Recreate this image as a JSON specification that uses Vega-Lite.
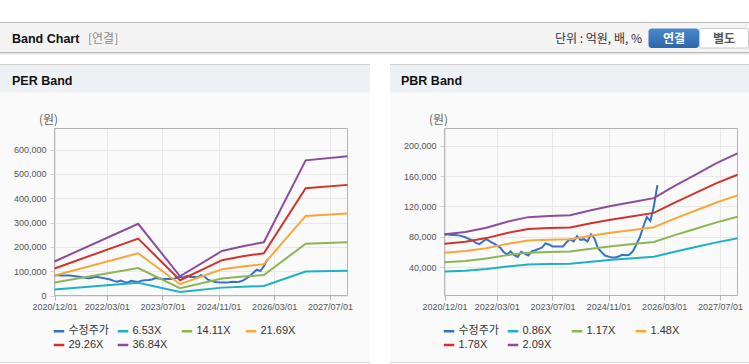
{
  "$schema": "https://vega.github.io/schema/vega-lite/v6.json",
  "width": 749,
  "height": 364,
  "autosize": {"type": "none"},
  "padding": 0,
  "background": "#fafafa",
  "config": {
    "view": {"stroke": null},
    "axis": {"labelFont": "Liberation Sans", "labelFontSize": 9, "labelColor": "#555555"}
  },
  "datasets": {
    "price": [
      {"d":"2020-12-01","s":"수정주가","v":83000},{"d":"2021-01-01","s":"수정주가","v":83000},{"d":"2021-02-01","s":"수정주가","v":82500},
      {"d":"2021-03-01","s":"수정주가","v":82500},{"d":"2021-04-01","s":"수정주가","v":82000},{"d":"2021-05-01","s":"수정주가","v":81000},
      {"d":"2021-06-01","s":"수정주가","v":79500},{"d":"2021-07-01","s":"수정주가","v":77500},{"d":"2021-08-01","s":"수정주가","v":75500},
      {"d":"2021-09-01","s":"수정주가","v":72000},{"d":"2021-10-01","s":"수정주가","v":70500},{"d":"2021-11-01","s":"수정주가","v":74000},
      {"d":"2021-12-01","s":"수정주가","v":77000},{"d":"2022-01-01","s":"수정주가","v":74000},{"d":"2022-02-01","s":"수정주가","v":71500},
      {"d":"2022-03-01","s":"수정주가","v":69000},{"d":"2022-04-01","s":"수정주가","v":66000},{"d":"2022-05-01","s":"수정주가","v":60000},
      {"d":"2022-06-01","s":"수정주가","v":57000},{"d":"2022-07-01","s":"수정주가","v":61000},{"d":"2022-08-01","s":"수정주가","v":56000},
      {"d":"2022-09-01","s":"수정주가","v":53500},{"d":"2022-10-01","s":"수정주가","v":60500},{"d":"2022-11-01","s":"수정주가","v":58000},
      {"d":"2022-12-01","s":"수정주가","v":55500},{"d":"2023-01-01","s":"수정주가","v":61000},{"d":"2023-02-01","s":"수정주가","v":62500},
      {"d":"2023-03-01","s":"수정주가","v":64000},{"d":"2023-04-01","s":"수정주가","v":66000},{"d":"2023-05-01","s":"수정주가","v":71500},
      {"d":"2023-06-01","s":"수정주가","v":70000},{"d":"2023-07-01","s":"수정주가","v":67500},{"d":"2023-08-01","s":"수정주가","v":67500},
      {"d":"2023-09-01","s":"수정주가","v":67500},{"d":"2023-10-01","s":"수정주가","v":67500},{"d":"2023-11-01","s":"수정주가","v":73000},
      {"d":"2023-12-01","s":"수정주가","v":77000},{"d":"2024-01-01","s":"수정주가","v":74000},{"d":"2024-02-01","s":"수정주가","v":81000},
      {"d":"2024-03-01","s":"수정주가","v":76000},{"d":"2024-04-01","s":"수정주가","v":77000},{"d":"2024-05-01","s":"수정주가","v":74000},
      {"d":"2024-06-01","s":"수정주가","v":83500},{"d":"2024-07-01","s":"수정주가","v":78000},{"d":"2024-08-01","s":"수정주가","v":65000},
      {"d":"2024-09-01","s":"수정주가","v":60000},{"d":"2024-10-01","s":"수정주가","v":55500},{"d":"2024-11-01","s":"수정주가","v":54000},
      {"d":"2024-12-01","s":"수정주가","v":53000},{"d":"2025-01-01","s":"수정주가","v":53000},{"d":"2025-02-01","s":"수정주가","v":54500},
      {"d":"2025-03-01","s":"수정주가","v":56500},{"d":"2025-04-01","s":"수정주가","v":56000},{"d":"2025-05-01","s":"수정주가","v":56500},
      {"d":"2025-06-01","s":"수정주가","v":61000},{"d":"2025-07-01","s":"수정주가","v":70000},{"d":"2025-08-01","s":"수정주가","v":79500},
      {"d":"2025-09-01","s":"수정주가","v":94000},{"d":"2025-10-01","s":"수정주가","v":106000},{"d":"2025-11-01","s":"수정주가","v":101000},
      {"d":"2025-12-01","s":"수정주가","v":120000},{"d":"2026-01-01","s":"수정주가","v":148000}
    ],
    "per": [
      {"d":"2020-12-01","s":"6.53X","v":24800},{"d":"2020-12-01","s":"14.11X","v":53600},{"d":"2020-12-01","s":"21.69X","v":82400},{"d":"2020-12-01","s":"29.26X","v":111200},{"d":"2020-12-01","s":"36.84X","v":140000},
      {"d":"2022-12-01","s":"6.53X","v":52300},{"d":"2022-12-01","s":"14.11X","v":113000},{"d":"2022-12-01","s":"21.69X","v":173700},{"d":"2022-12-01","s":"29.26X","v":234300},{"d":"2022-12-01","s":"36.84X","v":295000},
      {"d":"2023-12-01","s":"6.53X","v":14000},{"d":"2023-12-01","s":"14.11X","v":30300},{"d":"2023-12-01","s":"21.69X","v":46500},{"d":"2023-12-01","s":"29.26X","v":62700},{"d":"2023-12-01","s":"36.84X","v":79000},
      {"d":"2024-12-01","s":"6.53X","v":32400},{"d":"2024-12-01","s":"14.11X","v":70100},{"d":"2024-12-01","s":"21.69X","v":107700},{"d":"2024-12-01","s":"29.26X","v":145300},{"d":"2024-12-01","s":"36.84X","v":183000},
      {"d":"2025-06-01","s":"6.53X","v":36000},{"d":"2025-06-01","s":"14.11X","v":77700},{"d":"2025-06-01","s":"21.69X","v":119500},{"d":"2025-06-01","s":"29.26X","v":161200},{"d":"2025-06-01","s":"36.84X","v":203000},
      {"d":"2025-12-01","s":"6.53X","v":38800},{"d":"2025-12-01","s":"14.11X","v":83900},{"d":"2025-12-01","s":"21.69X","v":128900},{"d":"2025-12-01","s":"29.26X","v":174000},{"d":"2025-12-01","s":"36.84X","v":219000},
      {"d":"2026-12-01","s":"6.53X","v":98600},{"d":"2026-12-01","s":"14.11X","v":212900},{"d":"2026-12-01","s":"21.69X","v":327300},{"d":"2026-12-01","s":"29.26X","v":441600},{"d":"2026-12-01","s":"36.84X","v":556000},
      {"d":"2027-12-01","s":"6.53X","v":101600},{"d":"2027-12-01","s":"14.11X","v":219500},{"d":"2027-12-01","s":"21.69X","v":337400},{"d":"2027-12-01","s":"29.26X","v":455100},{"d":"2027-12-01","s":"36.84X","v":573000}
    ],
    "pbr": [
      {"d":"2020-12-01","s":"0.86X","v":34400},{"d":"2020-12-01","s":"1.17X","v":46700},{"d":"2020-12-01","s":"1.48X","v":59100},{"d":"2020-12-01","s":"1.78X","v":71100},{"d":"2020-12-01","s":"2.09X","v":83500},
      {"d":"2021-06-01","s":"0.86X","v":35600},{"d":"2021-06-01","s":"1.17X","v":48400},{"d":"2021-06-01","s":"1.48X","v":61300},{"d":"2021-06-01","s":"1.78X","v":73700},{"d":"2021-06-01","s":"2.09X","v":86500},
      {"d":"2021-12-01","s":"0.86X","v":37900},{"d":"2021-12-01","s":"1.17X","v":51500},{"d":"2021-12-01","s":"1.48X","v":65200},{"d":"2021-12-01","s":"1.78X","v":78400},{"d":"2021-12-01","s":"2.09X","v":92000},
      {"d":"2022-06-01","s":"0.86X","v":41100},{"d":"2022-06-01","s":"1.17X","v":56000},{"d":"2022-06-01","s":"1.48X","v":70800},{"d":"2022-06-01","s":"1.78X","v":85200},{"d":"2022-06-01","s":"2.09X","v":100000},
      {"d":"2022-12-01","s":"0.86X","v":43600},{"d":"2022-12-01","s":"1.17X","v":59300},{"d":"2022-12-01","s":"1.48X","v":75100},{"d":"2022-12-01","s":"1.78X","v":90300},{"d":"2022-12-01","s":"2.09X","v":106000},
      {"d":"2023-06-01","s":"0.86X","v":44200},{"d":"2023-06-01","s":"1.17X","v":60200},{"d":"2023-06-01","s":"1.48X","v":76100},{"d":"2023-06-01","s":"1.78X","v":91600},{"d":"2023-06-01","s":"2.09X","v":107500},
      {"d":"2023-12-01","s":"0.86X","v":44600},{"d":"2023-12-01","s":"1.17X","v":60700},{"d":"2023-12-01","s":"1.48X","v":76800},{"d":"2023-12-01","s":"1.78X","v":92400},{"d":"2023-12-01","s":"2.09X","v":108500},
      {"d":"2024-06-01","s":"0.86X","v":47300},{"d":"2024-06-01","s":"1.17X","v":64400},{"d":"2024-06-01","s":"1.48X","v":81400},{"d":"2024-06-01","s":"1.78X","v":97900},{"d":"2024-06-01","s":"2.09X","v":115000},
      {"d":"2024-12-01","s":"0.86X","v":49800},{"d":"2024-12-01","s":"1.17X","v":67700},{"d":"2024-12-01","s":"1.48X","v":85700},{"d":"2024-12-01","s":"1.78X","v":103000},{"d":"2024-12-01","s":"2.09X","v":121000},
      {"d":"2025-06-01","s":"0.86X","v":51900},{"d":"2025-06-01","s":"1.17X","v":70500},{"d":"2025-06-01","s":"1.48X","v":89200},{"d":"2025-06-01","s":"1.78X","v":107300},{"d":"2025-06-01","s":"2.09X","v":126000},
      {"d":"2025-12-01","s":"0.86X","v":53900},{"d":"2025-12-01","s":"1.17X","v":73300},{"d":"2025-12-01","s":"1.48X","v":92800},{"d":"2025-12-01","s":"1.78X","v":111600},{"d":"2025-12-01","s":"2.09X","v":131000},
      {"d":"2026-06-01","s":"0.86X","v":60500},{"d":"2026-06-01","s":"1.17X","v":82300},{"d":"2026-06-01","s":"1.48X","v":104100},{"d":"2026-06-01","s":"1.78X","v":125200},{"d":"2026-06-01","s":"2.09X","v":147000},
      {"d":"2026-12-01","s":"0.86X","v":66700},{"d":"2026-12-01","s":"1.17X","v":90700},{"d":"2026-12-01","s":"1.48X","v":114700},{"d":"2026-12-01","s":"1.78X","v":138000},{"d":"2026-12-01","s":"2.09X","v":162000},
      {"d":"2027-06-01","s":"0.86X","v":72800},{"d":"2027-06-01","s":"1.17X","v":99100},{"d":"2027-06-01","s":"1.48X","v":125300},{"d":"2027-06-01","s":"1.78X","v":150800},{"d":"2027-06-01","s":"2.09X","v":177000},
      {"d":"2027-12-01","s":"0.86X","v":78200},{"d":"2027-12-01","s":"1.17X","v":106400},{"d":"2027-12-01","s":"1.48X","v":134600},{"d":"2027-12-01","s":"1.78X","v":161800},{"d":"2027-12-01","s":"2.09X","v":190000}
    ]
  },
  "resolve": {
    "scale": {"x": "independent", "y": "independent", "color": "independent"},
    "axis": {"x": "independent", "y": "independent"},
    "legend": {"color": "independent"}
  },
  "layer": [
    {"data": {"values": [{}]}, "mark": {"type": "rect", "fill": "#ffffff"}, "encoding": {"x": {"value": 0}, "x2": {"value": 749}, "y": {"value": 0}, "y2": {"value": 64}}},
    {"data": {"values": [{}]}, "mark": {"type": "rect", "fill": "#f4f4f4", "stroke": "#b9b9b9", "strokeWidth": 1}, "encoding": {"x": {"value": -2}, "x2": {"value": 751}, "y": {"value": 22.5}, "y2": {"value": 52.5}}},
    {"data": {"values": [{}]}, "mark": {"type": "rect", "fill": "#e6e6e6"}, "encoding": {"x": {"value": 0}, "x2": {"value": 749}, "y": {"value": 53}, "y2": {"value": 54.5}}},
    {"data": {"values": [{}]}, "mark": {"type": "rect", "fill": "#edf1f6"}, "encoding": {"x": {"value": 0}, "x2": {"value": 749}, "y": {"value": 64}, "y2": {"value": 92.5}}},
    {"data": {"values": [{}]}, "mark": {"type": "rect", "fill": "#d2d2d2"}, "encoding": {"x": {"value": 0}, "x2": {"value": 749}, "y": {"value": 64}, "y2": {"value": 65}}},
    {"data": {"values": [{}]}, "mark": {"type": "rect", "fill": "#d8d8d8"}, "encoding": {"x": {"value": 0}, "x2": {"value": 749}, "y": {"value": 362}, "y2": {"value": 363}}},
    {"data": {"values": [{}]}, "mark": {"type": "rect", "fill": "#ffffff"}, "encoding": {"x": {"value": 0}, "x2": {"value": 749}, "y": {"value": 363}, "y2": {"value": 364}}},
    {"data": {"values": [{}]}, "mark": {"type": "rect", "fill": "#ffffff"}, "encoding": {"x": {"value": 370}, "x2": {"value": 390}, "y": {"value": 55}, "y2": {"value": 364}}},
    {"data": {"values": [{}]}, "mark": {"type": "rect", "cornerRadius": 3, "fill": {"gradient": "linear", "x1": 0, "y1": 0, "x2": 0, "y2": 1, "stops": [{"offset": 0, "color": "#4a88cc"}, {"offset": 1, "color": "#2b66ab"}]}}, "encoding": {"x": {"value": 648.5}, "x2": {"value": 699}, "y": {"value": 28.5}, "y2": {"value": 48}}},
    {"data": {"values": [{}]}, "mark": {"type": "rect", "cornerRadius": 2, "fill": "#ffffff", "stroke": "#c8c8c8", "strokeWidth": 1}, "encoding": {"x": {"value": 699.5}, "x2": {"value": 748.5}, "y": {"value": 28.5}, "y2": {"value": 48}}},
    {"data": {"values": [{}]}, "mark": {"type": "text", "text": "Band Chart", "x": 12, "y": 43, "align": "left", "baseline": "alphabetic", "font": "Liberation Sans", "fontSize": 12.5, "fontWeight": "bold", "fill": "#111111"}, "encoding": {}},
    {"data": {"values": [{}]}, "mark": {"type": "text", "text": "[연결]", "x": 88, "y": 43, "align": "left", "baseline": "alphabetic", "font": "Noto Sans CJK KR", "fontSize": 12, "fill": "#8a8a8a"}, "encoding": {}},
    {"data": {"values": [{}]}, "mark": {"type": "text", "text": "단위 : 억원, 배, %", "x": 642, "y": 43, "align": "right", "baseline": "alphabetic", "font": "Noto Sans CJK KR", "fontSize": 12, "fill": "#333333"}, "encoding": {}},
    {"data": {"values": [{}]}, "mark": {"type": "text", "text": "연결", "x": 674, "y": 43, "align": "center", "baseline": "alphabetic", "font": "Noto Sans CJK KR", "fontSize": 12, "fontWeight": "bold", "fill": "#ffffff"}, "encoding": {}},
    {"data": {"values": [{}]}, "mark": {"type": "text", "text": "별도", "x": 724, "y": 43, "align": "center", "baseline": "alphabetic", "font": "Noto Sans CJK KR", "fontSize": 12, "fontWeight": "bold", "fill": "#555555"}, "encoding": {}},
    {"data": {"values": [{}]}, "mark": {"type": "text", "text": "PER Band", "x": 12, "y": 85, "align": "left", "baseline": "alphabetic", "font": "Liberation Sans", "fontSize": 12.5, "fontWeight": "bold", "fill": "#111111"}, "encoding": {}},
    {"data": {"values": [{}]}, "mark": {"type": "text", "text": "PBR Band", "x": 401, "y": 85, "align": "left", "baseline": "alphabetic", "font": "Liberation Sans", "fontSize": 12.5, "fontWeight": "bold", "fill": "#111111"}, "encoding": {}},
    {
      "resolve": {"axis": {"x": "independent"}},
      "layer": [
        {
          "data": {"values": [{}]},
          "mark": {"type": "rect", "fill": "#ffffff", "fillOpacity": 0, "stroke": "#b4b4b4", "strokeWidth": 1},
          "encoding": {
            "x": {"datum": {"year": 2020, "month": 12, "date": 1, "utc": true}, "type": "temporal",
                  "scale": {"type": "utc", "domain": [{"year": 2020, "month": 12, "date": 1, "utc": true}, {"year": 2027, "month": 12, "date": 1, "utc": true}], "range": [54.5, 347.5]},
                  "axis": {"orient": "top", "values": [{"year": 2020, "month": 12, "date": 1, "utc": true}, {"year": 2022, "month": 3, "date": 1, "utc": true}, {"year": 2023, "month": 7, "date": 1, "utc": true}, {"year": 2024, "month": 11, "date": 1, "utc": true}, {"year": 2026, "month": 3, "date": 1, "utc": true}, {"year": 2027, "month": 7, "date": 1, "utc": true}],
                           "grid": true, "gridColor": "#e8e8e8", "labels": false, "ticks": false, "domain": false, "title": null}},
            "x2": {"datum": {"year": 2027, "month": 12, "date": 1, "utc": true}},
            "y": {"datum": 0, "type": "quantitative"},
            "y2": {"datum": 687000}
          }
        },
        {
          "data": {"name": "price"},
          "mark": {"type": "line", "strokeWidth": 2},
          "encoding": {
            "x": {"field": "d", "type": "temporal",
                  "scale": {"type": "utc", "domain": [{"year": 2020, "month": 12, "date": 1, "utc": true}, {"year": 2027, "month": 12, "date": 1, "utc": true}], "range": [54.5, 347.5]},
                  "axis": {"orient": "bottom", "offset": -69, "values": [{"year": 2020, "month": 12, "date": 1, "utc": true}, {"year": 2022, "month": 3, "date": 1, "utc": true}, {"year": 2023, "month": 7, "date": 1, "utc": true}, {"year": 2024, "month": 11, "date": 1, "utc": true}, {"year": 2026, "month": 3, "date": 1, "utc": true}, {"year": 2027, "month": 7, "date": 1, "utc": true}],
                           "format": "%Y/%m/%d", "grid": false, "domain": false, "ticks": true, "tickSize": 5, "tickColor": "#b4b4b4", "labelPadding": 2, "labelFlush": false, "labelOverlap": false, "title": null}},
            "y": {"field": "v", "type": "quantitative",
                  "scale": {"domain": [0, 687000], "range": [295.5, 128.5], "nice": false, "zero": false},
                  "axis": {"orient": "left", "offset": -54, "values": [0, 100000, 200000, 300000, 400000, 500000, 600000], "format": ",d",
                           "domain": false, "grid": true, "gridColor": "#e8e8e8", "ticks": true, "tickSize": 4, "tickColor": "#d0d0d0", "labelPadding": 4,
                           "title": "(원)", "titleAngle": 0, "titleX": -6, "titleY": 119, "titleAlign": "center", "titleBaseline": "middle",
                           "titleFont": "Noto Sans CJK KR", "titleFontSize": 12, "titleFontWeight": "normal", "titleColor": "#666666"}},
            "color": {"field": "s", "type": "nominal",
                      "scale": {"domain": ["수정주가", "6.53X", "14.11X", "21.69X", "29.26X", "36.84X"], "range": ["#3672c4", "#1db1c6", "#8db455", "#f6a73a", "#d0342c", "#8d4d9d"]},
                      "legend": {"orient": "none", "legendX": 52.5, "legendY": 324.5, "direction": "horizontal", "columns": 4, "title": null,
                                 "symbolType": "stroke", "symbolStrokeWidth": 2.5, "symbolSize": 110, "labelFont": "Liberation Sans, Noto Sans CJK KR",
                                 "labelFontSize": 11, "labelColor": "#333333", "padding": 0, "rowPadding": 2, "columnPadding": 3, "gridAlign": "all", "labelOffset": 3}}
          }
        },
        {
          "data": {"name": "per"},
          "mark": {"type": "line", "strokeWidth": 2},
          "encoding": {
            "x": {"field": "d", "type": "temporal", "scale": {"type": "utc"}, "axis": null},
            "y": {"field": "v", "type": "quantitative"},
            "color": {"field": "s", "type": "nominal"}
          }
        }
      ]
    },
    {
      "resolve": {"axis": {"x": "independent"}},
      "layer": [
        {
          "data": {"values": [{}]},
          "mark": {"type": "rect", "fill": "#ffffff", "fillOpacity": 0, "stroke": "#b4b4b4", "strokeWidth": 1},
          "encoding": {
            "x": {"datum": {"year": 2020, "month": 12, "date": 1, "utc": true}, "type": "temporal",
                  "scale": {"type": "utc", "domain": [{"year": 2020, "month": 12, "date": 1, "utc": true}, {"year": 2027, "month": 12, "date": 1, "utc": true}], "range": [444.5, 737.5]},
                  "axis": {"orient": "top", "values": [{"year": 2020, "month": 12, "date": 1, "utc": true}, {"year": 2022, "month": 3, "date": 1, "utc": true}, {"year": 2023, "month": 7, "date": 1, "utc": true}, {"year": 2024, "month": 11, "date": 1, "utc": true}, {"year": 2026, "month": 3, "date": 1, "utc": true}, {"year": 2027, "month": 7, "date": 1, "utc": true}],
                           "grid": true, "gridColor": "#e8e8e8", "labels": false, "ticks": false, "domain": false, "title": null}},
            "x2": {"datum": {"year": 2027, "month": 12, "date": 1, "utc": true}},
            "y": {"datum": 2900, "type": "quantitative"},
            "y2": {"datum": 222600}
          }
        },
        {
          "data": {"name": "price"},
          "mark": {"type": "line", "strokeWidth": 2},
          "encoding": {
            "x": {"field": "d", "type": "temporal",
                  "scale": {"type": "utc", "domain": [{"year": 2020, "month": 12, "date": 1, "utc": true}, {"year": 2027, "month": 12, "date": 1, "utc": true}], "range": [444.5, 737.5]},
                  "axis": {"orient": "bottom", "offset": -69, "values": [{"year": 2020, "month": 12, "date": 1, "utc": true}, {"year": 2022, "month": 3, "date": 1, "utc": true}, {"year": 2023, "month": 7, "date": 1, "utc": true}, {"year": 2024, "month": 11, "date": 1, "utc": true}, {"year": 2026, "month": 3, "date": 1, "utc": true}, {"year": 2027, "month": 7, "date": 1, "utc": true}],
                           "format": "%Y/%m/%d", "grid": false, "domain": false, "ticks": true, "tickSize": 5, "tickColor": "#b4b4b4", "labelPadding": 2, "labelFlush": false, "labelOverlap": false, "title": null}},
            "y": {"field": "v", "type": "quantitative",
                  "scale": {"domain": [2900, 222600], "range": [295.5, 128.5], "nice": false, "zero": false},
                  "axis": {"orient": "left", "offset": -444, "values": [40000, 80000, 120000, 160000, 200000], "format": ",d",
                           "domain": false, "grid": true, "gridColor": "#e8e8e8", "ticks": true, "tickSize": 4, "tickColor": "#d0d0d0", "labelPadding": 4,
                           "title": "(원)", "titleAngle": 0, "titleX": -6, "titleY": 119, "titleAlign": "center", "titleBaseline": "middle",
                           "titleFont": "Noto Sans CJK KR", "titleFontSize": 12, "titleFontWeight": "normal", "titleColor": "#666666"}},
            "color": {"field": "s", "type": "nominal",
                      "scale": {"domain": ["수정주가", "0.86X", "1.17X", "1.48X", "1.78X", "2.09X"], "range": ["#3672c4", "#1db1c6", "#8db455", "#f6a73a", "#d0342c", "#8d4d9d"]},
                      "legend": {"orient": "none", "legendX": 442.5, "legendY": 324.5, "direction": "horizontal", "columns": 4, "title": null,
                                 "symbolType": "stroke", "symbolStrokeWidth": 2.5, "symbolSize": 110, "labelFont": "Liberation Sans, Noto Sans CJK KR",
                                 "labelFontSize": 11, "labelColor": "#333333", "padding": 0, "rowPadding": 2, "columnPadding": 3, "gridAlign": "all", "labelOffset": 3}}
          }
        },
        {
          "data": {"name": "pbr"},
          "mark": {"type": "line", "strokeWidth": 2},
          "encoding": {
            "x": {"field": "d", "type": "temporal", "scale": {"type": "utc"}, "axis": null},
            "y": {"field": "v", "type": "quantitative"},
            "color": {"field": "s", "type": "nominal"}
          }
        }
      ]
    }
  ]
}
